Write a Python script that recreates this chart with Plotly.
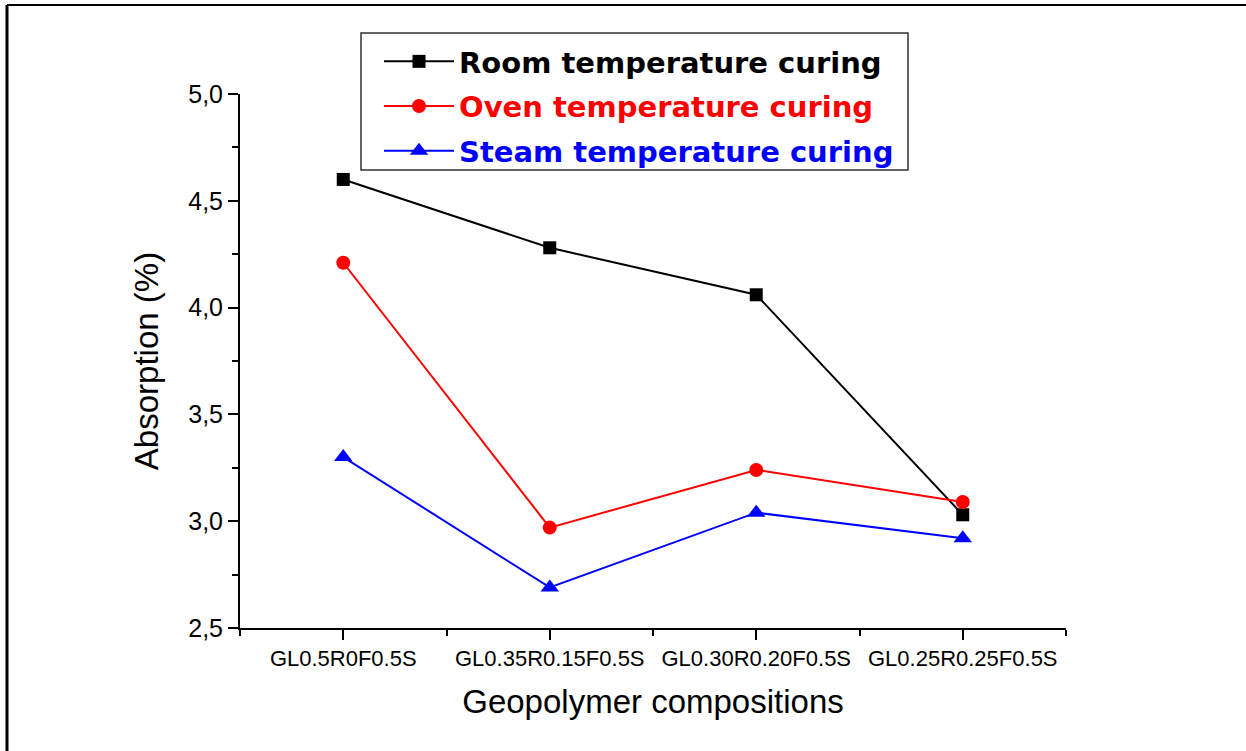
import plotly.graph_objects as go

categories = ["GL0.5R0F0.5S", "GL0.35R0.15F0.5S", "GL0.30R0.20F0.5S", "GL0.25R0.25F0.5S"]
cat_pos = [0.5, 1.5, 2.5, 3.5]
room = [4.60, 4.28, 4.06, 3.03]
oven = [4.21, 2.97, 3.24, 3.09]
steam = [3.30, 2.69, 3.04, 2.92]
y_ticks = [2.5, 3.0, 3.5, 4.0, 4.5, 5.0]

L, R, T, B = 240, 180, 94, 123
W, H = 1246, 751
PW, PH = W - L - R, H - T - B


def px2paper(x, y):
    return (x - L) / PW, (H - B - y) / PH


fig = go.Figure()
series = [
    ("Room temperature curing", room, "black", "square", 13),
    ("Oven temperature curing", oven, "red", "circle", 14),
    ("Steam temperature curing", steam, "blue", "triangle-up", 16),
]
for i, (name, vals, col, sym, sz) in enumerate(series):
    fig.add_trace(go.Scatter(
        x=cat_pos, y=vals, mode="lines+markers",
        name=f"<b><span style='color:{col}'>{name}</span></b>",
        line=dict(color=col, width=2),
        marker=dict(symbol=sym, size=sz, color=col),
        legendgroup=f"g{i}",
    ))

lx, ly = px2paper(379, 36)
fig.update_layout(
    width=W, height=H,
    margin=dict(l=L, r=R, t=T, b=B),
    paper_bgcolor="white", plot_bgcolor="white",
    separators=",.",
    font=dict(family="Liberation Sans, Arial", color="black"),
    showlegend=True,
    legend=dict(
        x=lx, y=ly, xanchor="left", yanchor="top",
        bgcolor="rgba(0,0,0,0)", borderwidth=0,
        font=dict(size=29, family="DejaVu Sans"),
        tracegroupgap=4, itemwidth=70,
    ),
    xaxis=dict(
        range=[0, 4], tickvals=cat_pos, ticktext=categories,
        showgrid=False, zeroline=False,
        showline=True, linecolor="black", linewidth=2,
        ticks="outside", ticklen=10, tickwidth=2, tickcolor="black",
        tickfont=dict(size=22, family="Liberation Sans, Arial"),
        minor=dict(tickvals=[0, 1, 2, 3, 4], ticks="outside", ticklen=6, tickwidth=2, tickcolor="black"),
        title=dict(text="Geopolymer compositions", font=dict(size=33), standoff=19),
    ),
    yaxis=dict(
        range=[2.5, 5.0], tickvals=y_ticks, tickformat=".1f",
        showgrid=False, zeroline=False,
        showline=True, linecolor="black", linewidth=2,
        ticks="outside", ticklen=10, tickwidth=2, tickcolor="black",
        tickfont=dict(size=25, family="Liberation Sans, Arial"),
        minor=dict(tickvals=[2.75, 3.25, 3.75, 4.25, 4.75], ticks="outside", ticklen=6, tickwidth=2, tickcolor="black"),
        title=dict(text="Absorption (%)", font=dict(size=33), standoff=20),
    ),
)

# legend frame
bx0, by0 = px2paper(361, 170)
bx1, by1 = px2paper(908, 33)
fig.add_shape(type="rect", xref="paper", yref="paper", x0=bx0, x1=bx1, y0=by0, y1=by1,
              line=dict(color="#333", width=1.5), fillcolor="white", layer="above")

# outer frame lines (left and top)
fx, fy_top = px2paper(7, 5)
_, fy_bot = px2paper(7, 751)
fx_r, _ = px2paper(1246, 5)
fig.add_shape(type="line", xref="paper", yref="paper", x0=fx, x1=fx, y0=fy_bot, y1=fy_top,
              line=dict(color="black", width=3))
fig.add_shape(type="line", xref="paper", yref="paper", x0=fx, x1=fx_r, y0=fy_top, y1=fy_top,
              line=dict(color="black", width=2))

fig.write_html("out.html")
